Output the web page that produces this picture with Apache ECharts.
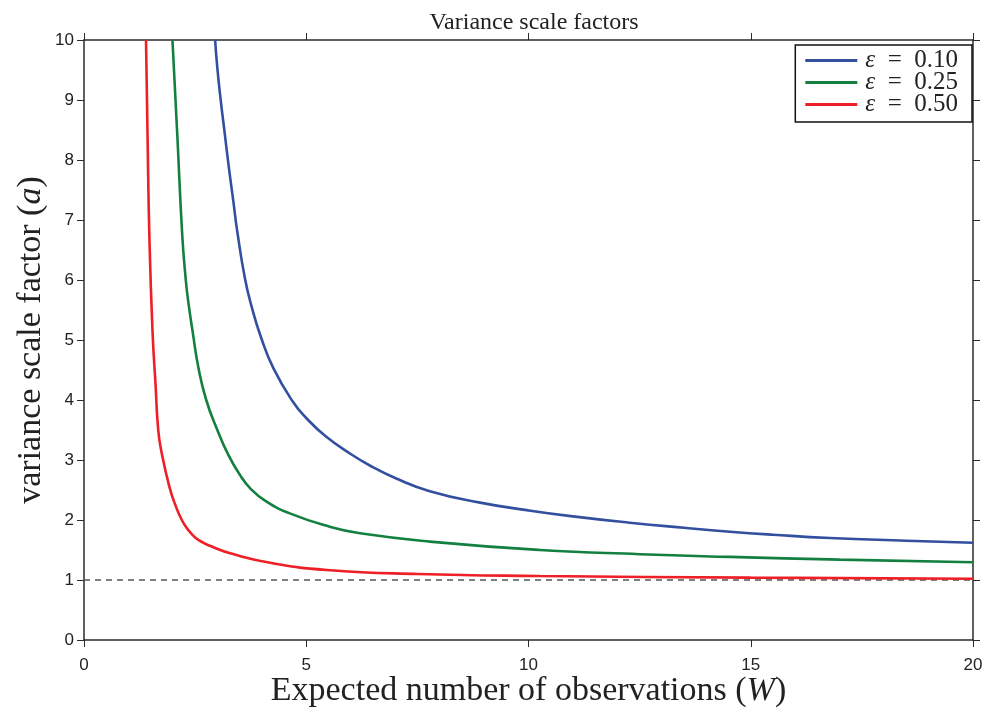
<!DOCTYPE html>
<html>
<head>
<meta charset="utf-8">
<script src="https://cdn.jsdelivr.net/npm/echarts@6/dist/echarts.min.js"></script>
<style>
  html, body { margin: 0; padding: 0; background: #fff; }
  #chart { width: 985px; height: 711px; }
</style>
</head>
<body>
<div id="chart"></div>
<script>
// Variance scale factor a as a function of expected observations W, one curve per epsilon
const epsLabels = ['0.10', '0.25', '0.50'];

const wBlue = [2.95, 3.0, 3.08, 3.17, 3.26, 3.36, 3.45, 3.62, 3.77, 3.98, 4.26, 4.7, 5.0, 5.43, 6.0, 6.5, 7.0, 7.78, 8.91, 10.0, 11.0, 12.28, 13.5, 14.53, 15.5, 16.78, 18.5, 20];
const aBlue = [10, 9.53, 8.97, 8.42, 7.87, 7.31, 6.8, 6.03, 5.56, 5.05, 4.53, 3.97, 3.7, 3.4, 3.1, 2.88, 2.7, 2.48, 2.29, 2.16, 2.06, 1.955, 1.87, 1.805, 1.755, 1.70, 1.655, 1.62];

const wGreen = [1.99, 2.1, 2.21, 2.29, 2.34, 2.45, 2.57, 2.75, 3.0, 3.25, 3.5, 3.75, 4.08, 4.63, 5.53, 6.21, 7.78, 10.26, 12.5, 14.53, 17.0, 20];
const aGreen = [10, 8.4, 6.75, 6.0, 5.67, 5.11, 4.555, 4.0, 3.5, 3.08, 2.76, 2.52, 2.32, 2.11, 1.888, 1.778, 1.64, 1.5, 1.43, 1.385, 1.34, 1.295];

const wRed = [1.395, 1.43, 1.47, 1.54, 1.61, 1.67, 1.75, 1.92, 2.05, 2.2, 2.35, 2.5, 2.7, 2.9, 3.29, 4.25, 5.46, 7.5, 10.26, 15, 20];
const aRed = [10, 8.4, 6.75, 5.17, 4.25, 3.5, 3.11, 2.555, 2.26, 2.0, 1.83, 1.71, 1.615, 1.55, 1.445, 1.278, 1.167, 1.1, 1.067, 1.04, 1.02];

// dashed reference level a = 1
const refW = [0, 20];
const refA = [1, 1];

const xTicks = [0, 5, 10, 15, 20];
const yTicks = [0, 1, 2, 3, 4, 5, 6, 7, 8, 9, 10];

const pairs = (xs, ys) => xs.map((x, i) => [x, ys[i]]);

const colors = ['#334f9f', '#138040', '#ee1f26'];
const curves = [pairs(wBlue, aBlue), pairs(wGreen, aGreen), pairs(wRed, aRed)];

const axisLine = { show: true, onZero: false, lineStyle: { color: '#2b2b2b', width: 1.5 } };
const tickStyle = { show: true, inside: false, length: 7, lineStyle: { color: '#2b2b2b', width: 1 } };
const labelFont = { fontFamily: "'Liberation Sans Narrow', 'Liberation Sans', sans-serif", fontSize: 17, color: '#222' };
const serif = "'Liberation Serif', serif";

const chart = echarts.init(document.getElementById('chart'), null, { renderer: 'canvas' });

chart.setOption({
  animation: false,
  backgroundColor: '#fff',
  title: {
    text: 'Variance scale factors',
    left: 529, top: 6, textAlign: 'center',
    textStyle: { fontFamily: serif, fontWeight: 'normal', fontSize: 24, color: '#222' }
  },
  grid: { left: 84, right: 12, top: 40, bottom: 71, containLabel: false, outerBoundsMode: 'none' },
  legend: {
    right: 13, top: 45,
    orient: 'vertical',
    data: epsLabels.map(e => 'ε = ' + e),
    icon: 'rect', itemWidth: 52, itemHeight: 3, itemGap: -3,
    padding: [3, 14, 5, 10],
    backgroundColor: '#fff',
    borderColor: '#111', borderWidth: 1.5, borderRadius: 0,
    formatter: name => '{i|ε}\u2002=\u2002' + name.slice(4),
    textStyle: {
      fontFamily: serif, fontSize: 25, lineHeight: 22, color: '#222', padding: [0, 0, 0, 3],
      rich: { i: { fontFamily: serif, fontStyle: 'italic', fontSize: 25, lineHeight: 22, color: '#222' } }
    }
  },
  xAxis: [
    {
      type: 'value', min: 0, max: 20, interval: 5, position: 'bottom',
      axisLine, axisTick: tickStyle, splitLine: { show: false },
      axisLabel: Object.assign({ margin: 17, formatter: v => xTicks.includes(v) ? String(v) : '' }, labelFont),
      name: 'Expected number of observations ({w|W})',
      nameLocation: 'middle', nameGap: 34, nameMoveOverlap: false,
      nameTextStyle: {
        fontFamily: serif, fontSize: 34, color: '#222',
        rich: { w: { fontFamily: serif, fontStyle: 'italic', fontSize: 34, color: '#222' } }
      }
    },
    {
      type: 'value', min: 0, max: 20, interval: 5, position: 'top',
      axisLine, axisTick: tickStyle, splitLine: { show: false }, axisLabel: { show: false }
    }
  ],
  yAxis: [
    {
      type: 'value', min: 0, max: 10, interval: 1, position: 'left',
      axisLine, axisTick: tickStyle, splitLine: { show: false },
      axisLabel: Object.assign({ margin: 10, formatter: v => yTicks.includes(v) ? String(v) : '' }, labelFont),
      name: 'variance scale factor ({a|a})',
      nameLocation: 'middle', nameGap: 36, nameMoveOverlap: false,
      nameTextStyle: {
        fontFamily: serif, fontSize: 34, color: '#222',
        rich: { a: { fontFamily: serif, fontStyle: 'italic', fontSize: 34, color: '#222' } }
      }
    },
    {
      type: 'value', min: 0, max: 10, interval: 1, position: 'right',
      axisLine, axisTick: tickStyle, splitLine: { show: false }, axisLabel: { show: false }
    }
  ],
  series: [
    {
      type: 'line', name: 'reference', data: pairs(refW, refA),
      showSymbol: false, silent: true, z: 1,
      lineStyle: { color: '#555', width: 1.5, type: [6, 5] }
    }
  ].concat(curves.map((d, i) => ({
    type: 'line', name: 'ε = ' + epsLabels[i], data: d,
    smooth: 0.5, showSymbol: false, z: 3,
    itemStyle: { color: colors[i] },
    lineStyle: { color: colors[i], width: 2.6 }
  })))
});
</script>
</body>
</html>
